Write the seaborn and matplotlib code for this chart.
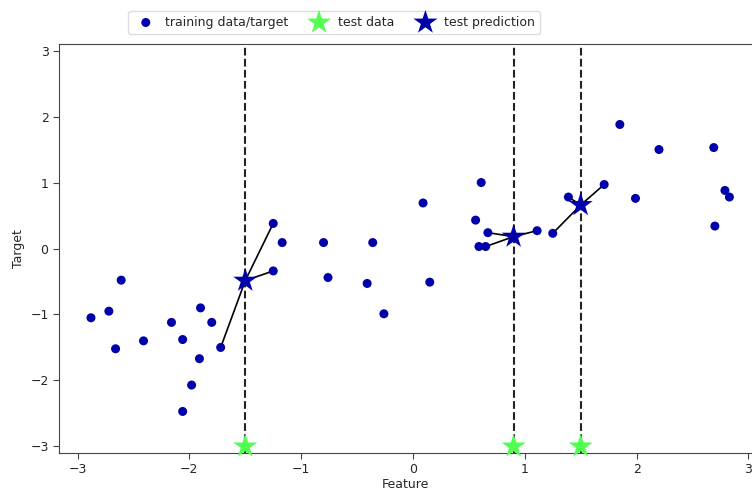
import numpy as np
import pandas as pd
import matplotlib
matplotlib.use('Agg')
import matplotlib.pyplot as plt
import seaborn as sns

# training data
X_train = [-2.61, -2.88, -2.72, -2.66, -2.41, -2.16, -2.06, -1.90, -1.80, -1.91,
           -1.98, -2.06, -1.72, -1.25, -1.17, -1.25, -0.80, -0.76, -0.36, -0.41,
           -0.26, 0.15, 0.09, 0.61, 0.56, 0.67, 0.59, 0.65, 1.11, 1.25,
           1.39, 1.71, 1.85, 2.20, 2.69, 1.99, 2.79, 2.83, 2.70]
y_train = [-0.48, -1.05, -0.95, -1.52, -1.40, -1.12, -1.38, -0.90, -1.12, -1.67,
           -2.07, -2.47, -1.50, 0.38, 0.09, -0.34, 0.09, -0.44, 0.09, -0.53,
           -0.99, -0.51, 0.69, 1.00, 0.43, 0.24, 0.03, 0.03, 0.27, 0.23,
           0.78, 0.97, 1.88, 1.50, 1.53, 0.76, 0.88, 0.78, 0.34]
X_test = [-1.5, 0.9, 1.5]
n_neighbors = 3

X_train = np.array(X_train)
y_train = np.array(y_train)

# k nearest neighbours and mean prediction
preds = []
neighbors = []
for xt in X_test:
    idx = np.argsort(np.abs(X_train - xt))[:n_neighbors]
    neighbors.append(idx)
    preds.append(y_train[idx].mean())

train_df = pd.DataFrame({'Feature': X_train, 'Target': y_train})
test_df = pd.DataFrame({'Feature': X_test, 'Target': [-3] * len(X_test)})
pred_df = pd.DataFrame({'Feature': X_test, 'Target': preds})

sns.set_style('ticks')
fig = plt.figure(figsize=(7.52, 4.93), dpi=100)
ax = fig.add_axes([59 / 752, 1 - 453 / 493, 693 / 752, 409 / 493])

ax.vlines(X_test, -3.1, 3.1, linestyle='--', color='#222222', linewidth=1.5, zorder=1)

for xt, p, idx in zip(X_test, preds, neighbors):
    for i in idx:
        ax.plot([xt, X_train[i]], [p, y_train[i]], color='k', linewidth=1.2, zorder=2)

sns.scatterplot(data=train_df, x='Feature', y='Target', color='#0000aa', s=42,
                edgecolor='none', label='training data/target', ax=ax, zorder=3)
sns.scatterplot(data=test_df, x='Feature', y='Target', color='#50ff50', marker='*', s=330,
                edgecolor='none', label='test data', ax=ax, zorder=4, clip_on=False)
sns.scatterplot(data=pred_df, x='Feature', y='Target', color='#0000aa', marker='*', s=330,
                edgecolor='none', label='test prediction', ax=ax, zorder=4)

ax.set_xlim(-3.166, 3.032)
ax.set_ylim(-3.1, 3.1)
ax.set_xticks([-3, -2, -1, 0, 1, 2, 3])
ax.set_yticks([-3, -2, -1, 0, 1, 2, 3])
ax.set_xticklabels(['\u22123', '\u22122', '\u22121', '0', '1', '2', '3'])
ax.set_yticklabels(['\u22123', '\u22122', '\u22121', '0', '1', '2', '3'])
ax.tick_params(labelsize=9, length=4, color='#444444')
ax.set_xlabel('Feature', fontsize=9, labelpad=1)
ax.set_ylabel('Target', fontsize=9)
ax.spines['right'].set_visible(False)
for s in ['left', 'bottom', 'top']:
    ax.spines[s].set_color('#444444')

ax.legend(ncol=3, loc=(0.1, 1.025), fontsize=9, frameon=True, framealpha=1,
          edgecolor='#dddddd', handletextpad=0.5, columnspacing=1.5)

fig.savefig('out.png', dpi=100)
